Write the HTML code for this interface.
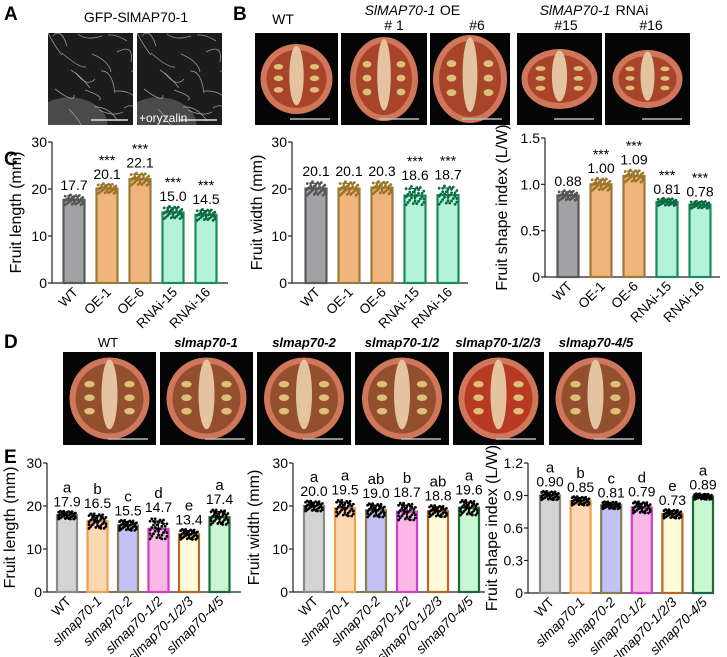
<!DOCTYPE html>
<html><head><meta charset="utf-8">
<style>
html,body{margin:0;padding:0;background:#fff;}
svg{display:block;font-family:"Liberation Sans",Arial,sans-serif;}
</style></head>
<body>
<svg id="fig" width="727" height="657" viewBox="0 0 727 657" xmlns="http://www.w3.org/2000/svg">
<defs id="defs"></defs>
<g id="static"></g>
<g id="charts"></g>
</svg>
<script>
// ---------- Panel C data ----------
const cCats = ["WT","OE-1","OE-6","RNAi-15","RNAi-16"];
const cLength = [17.7,20.1,22.1,15.0,14.5];
const cLengthSd = [0.8,0.8,1.0,1.0,0.9];
const cWidth = [20.1,20.1,20.3,18.6,18.7];
const cWidthSd = [1.1,1.1,1.0,1.5,1.5];
const cShape = [0.88,1.00,1.09,0.81,0.78];
const cShapeSd = [0.04,0.05,0.05,0.03,0.03];
const cStars = ["","***","***","***","***"];
const cWidthStars = ["","","","***","***"];
const cLenTicks = [0,10,20,30];
const cShapeTicks = [0,0.5,1.0,1.5];
const cShapeTickLabels = ["0","0.5","1.0","1.5"];
// ---------- Panel E data ----------
const eCats = ["WT","slmap70-1","slmap70-2","slmap70-1/2","slmap70-1/2/3","slmap70-4/5"];
const eLength = [17.9,16.5,15.5,14.7,13.4,17.4];
const eLengthSd = [0.7,1.3,0.9,1.8,0.9,1.3];
const eLengthLetters = ["a","b","c","d","e","a"];
const eWidth = [20.0,19.5,19.0,18.7,18.8,19.6];
const eWidthSd = [0.9,1.4,1.2,1.5,1.0,1.3];
const eWidthLetters = ["a","a","ab","b","ab","a"];
const eShape = [0.90,0.85,0.81,0.79,0.73,0.89];
const eShapeSd = [0.03,0.03,0.025,0.04,0.03,0.02];
const eShapeLetters = ["a","b","c","d","e","a"];
const eShapeTicks = [0,0.3,0.6,0.9,1.2];
const eShapeTickLabels = ["0","0.3","0.6","0.9","1.2"];

const NS="http://www.w3.org/2000/svg";
function mk(tag,attrs,parent){const e=document.createElementNS(NS,tag);for(const k in attrs)e.setAttribute(k,attrs[k]);parent.appendChild(e);return e;}
function txt(s,attrs,parent){const t=mk("text",attrs,parent);t.textContent=s;return t;}

const st=document.getElementById("static");
const ch=document.getElementById("charts");
const defs=document.getElementById("defs");

[["A",4,20],["B",233,20],["C",4,165],["D",4,348],["E",4,463]].forEach(p=>{
  const t=txt(p[0],{x:p[1],y:p[2],"font-size":"19","font-weight":"bold"},st);
  
  
});

let clipId=0;
function clipRect(x,y,w,h){const id="cl"+(clipId++);const c=mk("clipPath",{id:id},defs);mk("rect",{x:x,y:y,width:w,height:h},c);return "url(#"+id+")";}

function micro(x,y,w,h,name,label){
  const g=mk("g",{"clip-path":clipRect(x,y,w,h)},st);
  
  
  mk("rect",{x:x,y:y,width:w,height:h,fill:"#1c1c1c"},g);
  mk("ellipse",{cx:x+w*0.25,cy:y+h*1.0,rx:w*0.45,ry:h*0.3,fill:"#4a4a4a"},g);
  for(let i=0;i<18;i++){
    const x1=x+((i*23)%w), y1=y+((i*37)%h);
    mk("path",{d:`M${x1} ${y1} q ${8+(i%5)*3} ${15-(i%4)*8} ${14+(i%3)*5} ${22-(i%6)*4}`,stroke:"#bdbdbd","stroke-width":"0.8",fill:"none",opacity:"0.75"},g);
  }
  mk("line",{x1:x+w-42,y1:y+h-5,x2:x+w-5,y2:y+h-5,stroke:"#ddd","stroke-width":"1.5"},g);
  if(label) txt(label,{x:x+2,y:y+h-3,"font-size":"12",fill:"#fff"},g);
}
micro(48,33,85,92,"microscopy-image-control","");
micro(137,33,85,92,"microscopy-image-oryzalin","+oryzalin");
{const t=txt("GFP-SlMAP70-1",{x:136,y:22,"font-size":"14","text-anchor":"middle"},st);
}

function tomato(x,y,w,h,rx,ry,name,inner){
  const g=mk("g",{"clip-path":clipRect(x,y,w,h)},st);
  
  
  mk("rect",{x:x,y:y,width:w,height:h,fill:"#050505"},g);
  const cx=x+w/2,cy=y+h/2;
  mk("ellipse",{cx:cx,cy:cy,rx:rx,ry:ry,fill:"#d0765a"},g);
  mk("ellipse",{cx:cx,cy:cy,rx:rx-6,ry:ry-6,fill:inner||"#a8442a"},g);
  mk("ellipse",{cx:cx,cy:cy-ry*0.1,rx:rx*0.2,ry:ry*0.85,fill:"#e4c4a0"},g);
  for(let i=0;i<3;i++){
    mk("ellipse",{cx:cx-rx*0.5,cy:cy-ry*0.35+i*ry*0.33,rx:rx*0.13,ry:ry*0.08,fill:"#dcc07a"},g);
    mk("ellipse",{cx:cx+rx*0.5,cy:cy-ry*0.35+i*ry*0.33,rx:rx*0.13,ry:ry*0.08,fill:"#dcc07a"},g);
  }
  mk("line",{x1:x+w-48,y1:y+h-6,x2:x+w-8,y2:y+h-6,stroke:"#bbb","stroke-width":"1.5"},g);
}
const bPhotos=[[255,83,"wt",36,35],[341,86,"oe-1",34,42],[430,80,"oe-6",37,44],[517,85,"rnai-15",38,30],[605,85,"rnai-16",35,29]];
bPhotos.forEach(p=>tomato(p[0],33,p[1],92,p[3],p[4],"fruit-photo-"+p[2]));
[["WT",283,24,false],["SlMAP70-1",400,15,true],["OE",450,15,false],["# 1",394,30,false],["#6",477,30,false],["SlMAP70-1",575,15,true],["RNAi",632,15,false],["#15",566,30,false],["#16",651,30,false]].forEach((l,i)=>{
  const t=txt(l[0],{x:l[1],y:l[2],"font-size":"14","text-anchor":"middle","font-style":l[3]?"italic":"normal"},st);
  
});
const dPhotos=[[63,93,"wt"],[160,93,"slmap70-1"],[257,94,"slmap70-2"],[355,94,"slmap70-1-2"],[453,91,"slmap70-1-2-3"],[549,93,"slmap70-4-5"]];
dPhotos.forEach((p,i)=>tomato(p[0],352,p[1],93,40,41,"mutant-fruit-photo-"+p[2],i==4?"#b83a22":"#94502e"));
[["WT",108,false],["slmap70-1",206,true],["slmap70-2",304,true],["slmap70-1/2",402,true],["slmap70-1/2/3",498,true],["slmap70-4/5",596,true]].forEach((l,i)=>{
  const t=txt(l[0],{x:l[1],y:347,"font-size":"13","text-anchor":"middle","font-style":l[2]?"italic":"normal","font-weight":l[2]?"bold":"normal"},st);
  
});

function drawChart(c){
  const g=mk("g",{},ch);
  
  
  const y=v=>c.y0-(v-c.min)/(c.max-c.min)*(c.y0-c.y1);
  const xc=i=>c.xFirst+i*c.step;
  const ax=mk("line",{x1:c.ax,y1:c.y1,x2:c.ax,y2:c.y0,stroke:"#222","stroke-width":"1.2"},g);
  
  const bx=mk("line",{x1:c.ax,y1:c.y0,x2:c.axEnd,y2:c.y0,stroke:"#222","stroke-width":"1.2"},g);
  
  c.ticks.forEach((t,i)=>{
    mk("line",{x1:c.ax-4,y1:y(t),x2:c.ax,y2:y(t),stroke:"#222","stroke-width":"1.2"},g);
    const tl=txt(c.tickLabels[i],{x:c.ax-5,y:y(t)+5,"font-size":"14","text-anchor":"end"},g);
    
  });
  const at=txt(c.title,{x:0,y:0,"font-size":"16","text-anchor":"middle",transform:`translate(${c.titleX},${(c.y0+c.y1)/2}) rotate(-90)`},g);
  
  c.vals.forEach((v,i)=>{
    const x=xc(i),w=c.bw;
    const b=mk("rect",{x:x-w/2,y:y(v),width:w,height:c.y0-y(v),fill:c.fills[i],stroke:c.strokes[i],"stroke-width":"2.2"},g);
    
    
    for(let k=0;k<c.nDots;k++){
      const dx=(((k*7)%11)-5)/5*w*0.42;
      const dy=(((k*13)%17)-8)/8*c.sds[i]*1.3;
      mk("circle",{cx:x+dx,cy:y(v+dy),r:1.4,fill:c.dot[i]},g);
    }
    mk("line",{x1:x,y1:y(v+c.sds[i]),x2:x,y2:y(v-c.sds[i]),stroke:c.dot[i],"stroke-width":"1.2"},g);
    mk("line",{x1:x-5,y1:y(v+c.sds[i]),x2:x+5,y2:y(v+c.sds[i]),stroke:c.dot[i],"stroke-width":"1.2"},g);
    const top=y(v+c.sds[i]*1.8)-3;
    const vl=txt(c.fmt(v),{x:x,y:top,"font-size":"14","text-anchor":"middle"},g);
    
    const an=c.annot[i];
    if(an){const a=txt(an,{x:x,y:top-14,"font-size":an[0]=="*"?"14":"15","text-anchor":"middle"},g);
      }
    const cl=txt(c.cats[i],{x:0,y:0,"font-size":"13.5","text-anchor":"end","font-style":c.italic&&i>0?"italic":"normal",transform:`translate(${x+5},${c.y0+10}) rotate(-45)`},g);
    
  });
}
const cFills=["#a2a2a6","#f1b47d","#f1b47d","#b5f2dc","#b5f2dc"];
const cStrokes=["#5a5a5c","#9a7c3a","#9a7c3a","#1d8a5c","#1d8a5c"];
const cDots=["#555","#9a7428","#9a7428","#0c6a40","#0c6a40"];
const eFills=["#d4d4d4","#fdd8b4","#c2c2f7","#fbb9e8","#fffbdb","#c9f7d1"];
const eStrokes=["#8a8a8a","#efa04e","#8c7c52","#d33ec4","#b36a28","#1b6a3b"];
const eDots=["#000","#000","#000","#000","#000","#000"];
const f1=v=>v.toFixed(1), f2=v=>v.toFixed(2);

drawChart({name:"chart-c-fruit-length",cats:cCats,vals:cLength,sds:cLengthSd,annot:cStars,ticks:cLenTicks,tickLabels:cLenTicks.map(String),min:0,max:30,y0:283,y1:142,ax:52,axEnd:228,xFirst:74,step:33,bw:21,fills:cFills,strokes:cStrokes,dot:cDots,nDots:30,title:"Fruit length (mm)",titleX:21,fmt:f1});
drawChart({name:"chart-c-fruit-width",cats:cCats,vals:cWidth,sds:cWidthSd,annot:cWidthStars,ticks:cLenTicks,tickLabels:cLenTicks.map(String),min:0,max:30,y0:283,y1:142,ax:292,axEnd:468,xFirst:316,step:33,bw:21,fills:cFills,strokes:cStrokes,dot:cDots,nDots:30,title:"Fruit width (mm)",titleX:262,fmt:f1});
drawChart({name:"chart-c-fruit-shape-index",cats:cCats,vals:cShape,sds:cShapeSd,annot:cStars,ticks:cShapeTicks,tickLabels:cShapeTickLabels,min:0,max:1.5,y0:277,y1:138,ax:545,axEnd:720,xFirst:568,step:33,bw:21,fills:cFills,strokes:cStrokes,dot:cDots,nDots:30,title:"Fruit shape index (L/W)",titleX:507,fmt:f2});

drawChart({name:"chart-e-fruit-length",cats:eCats,vals:eLength,sds:eLengthSd,annot:eLengthLetters,ticks:cLenTicks,tickLabels:cLenTicks.map(String),min:0,max:30,y0:592,y1:463,ax:47,axEnd:241,xFirst:67,step:30.5,bw:20,fills:eFills,strokes:eStrokes,dot:eDots,nDots:36,title:"Fruit length (mm)",titleX:15,fmt:f1,italic:true});
drawChart({name:"chart-e-fruit-width",cats:eCats,vals:eWidth,sds:eWidthSd,annot:eWidthLetters,ticks:cLenTicks,tickLabels:cLenTicks.map(String),min:0,max:30,y0:592,y1:463,ax:293,axEnd:485,xFirst:314,step:31,bw:20,fills:eFills,strokes:eStrokes,dot:eDots,nDots:36,title:"Fruit width (mm)",titleX:259,fmt:f1,italic:true});
drawChart({name:"chart-e-fruit-shape-index",cats:eCats,vals:eShape,sds:eShapeSd,annot:eShapeLetters,ticks:eShapeTicks,tickLabels:eShapeTickLabels,min:0,max:1.2,y0:593,y1:463,ax:528,axEnd:713,xFirst:550,step:30.6,bw:20,fills:eFills,strokes:eStrokes,dot:eDots,nDots:36,title:"Fruit shape index (L/W)",titleX:497,fmt:f2,italic:true});
</script>
</body></html>
